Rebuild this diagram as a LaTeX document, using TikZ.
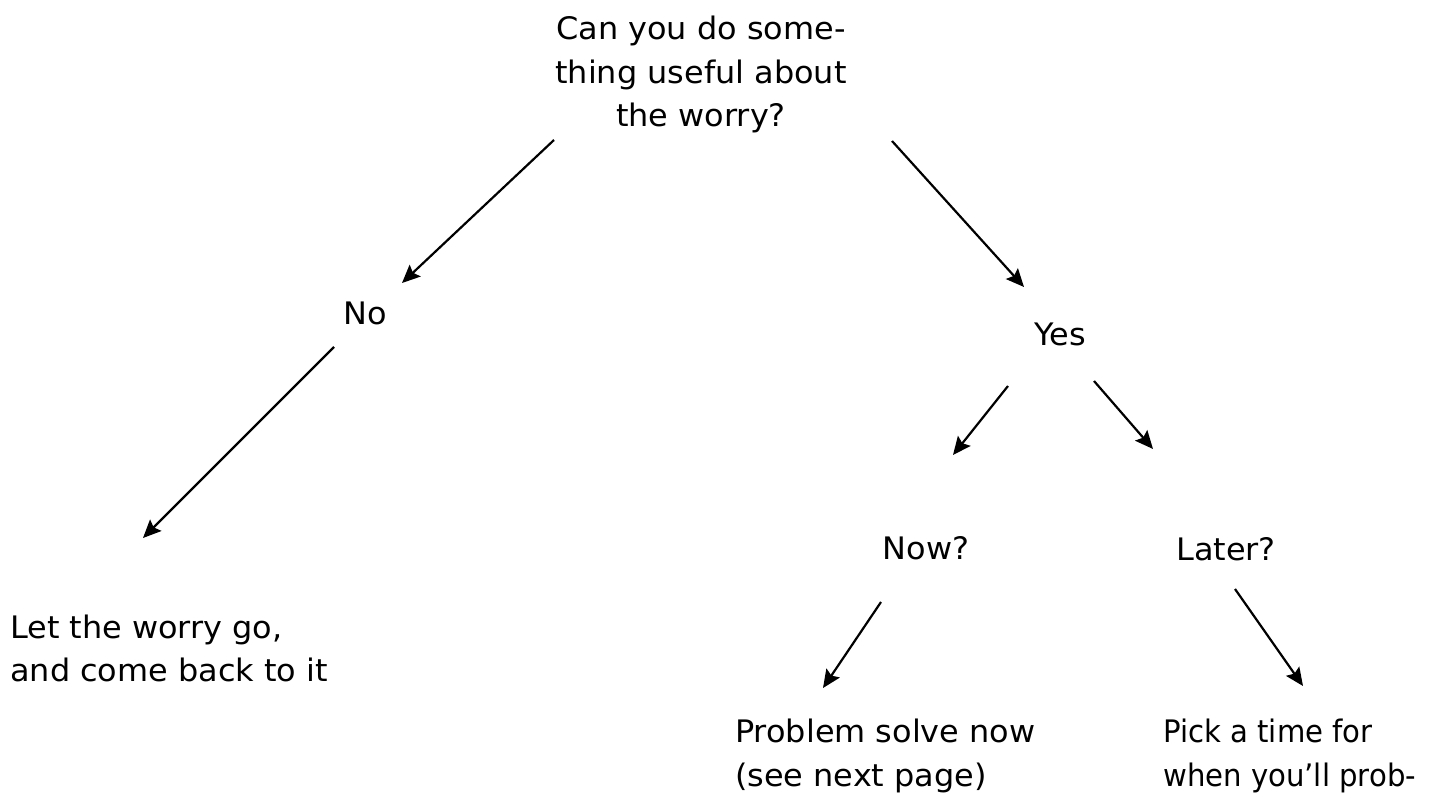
\documentclass[tikz,border=0pt]{standalone}
\usepackage{fontspec}
\setmainfont[FakeStretch=1.03]{DejaVu Sans}
\newfontfamily\narrowfont[FakeStretch=0.94]{DejaVu Sans}
\usetikzlibrary{arrows.meta}
\begin{document}
\begin{tikzpicture}[x=1pt,y=-1pt,
  txt/.style={inner sep=0pt,font=\fontsize{31}{43.5}\selectfont},
  arr/.style={line width=2.2pt,-{Stealth[length=18pt,width=16pt,inset=3pt]}}]
\useasboundingbox (0,0) rectangle (1437,799);
\node[txt,align=center,anchor=base] (q) at (701,127) {Can you do some-\\thing useful about\\the worry?};
\node[txt,anchor=base] (no) at (365,325) {No};
\node[txt,anchor=base] (yes) at (1060,345) {Yes};
\node[txt,anchor=base] (now) at (926,559) {Now?};
\node[txt,anchor=base] (later) at (1226,560) {Later?};
\node[txt,align=left,anchor=base west] (let) at (10,681.5) {Let the worry go,\\and come back to it};
\node[txt,align=left,anchor=base west] (solve) at (735,786) {Problem solve now\\(see next page)};
\node[txt,align=left,anchor=base west,font=\fontsize{31}{43.5}\narrowfont] (pick) at (1163,786) {Pick a time for\\when you’ll prob-};
\coordinate (a1) at (554,140); \coordinate (b1) at (402,283);
\coordinate (a2) at (892,141); \coordinate (b2) at (1024,287);
\coordinate (a3) at (334,347); \coordinate (b3) at (143,538);
\coordinate (a4) at (1008,386); \coordinate (b4) at (953,455);
\coordinate (a5) at (1094,381); \coordinate (b5) at (1153,449);
\coordinate (a6) at (881,602); \coordinate (b6) at (823,688);
\coordinate (a7) at (1235,589); \coordinate (b7) at (1303,686);
\foreach \i in {1,...,7} \draw[arr] (a\i) -- (b\i);
\end{tikzpicture}
\end{document}
